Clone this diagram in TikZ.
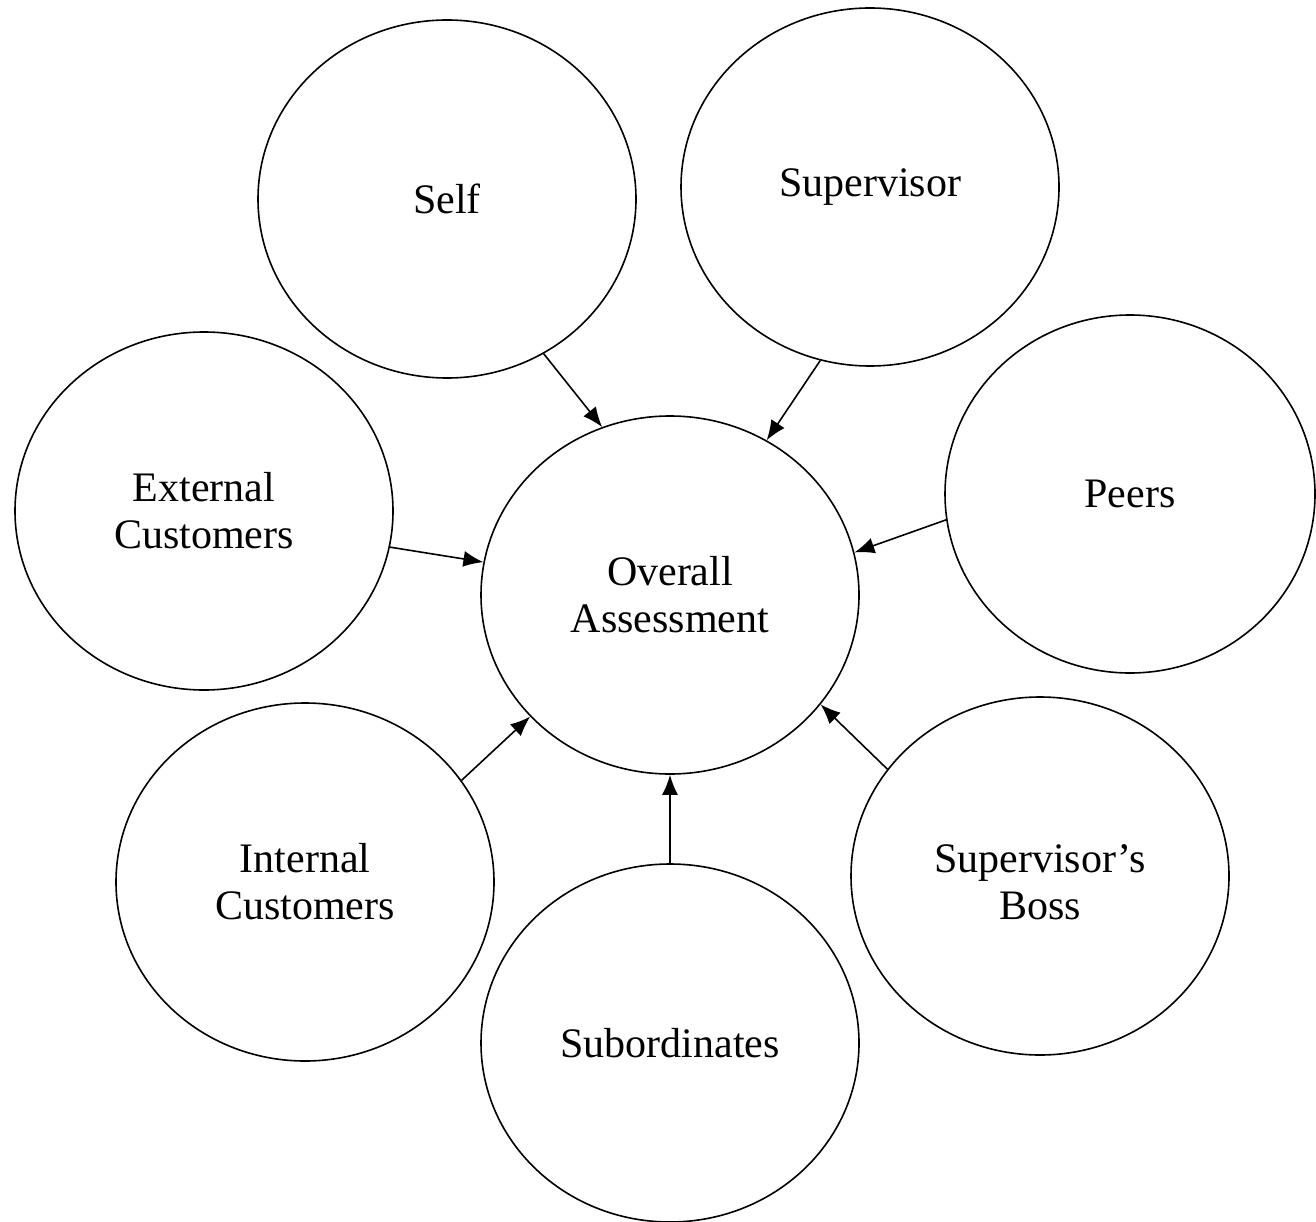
\documentclass[tikz,border=0pt]{standalone}
\usepackage{fontspec}
\setmainfont{Liberation Serif}
\usetikzlibrary{shapes.geometric,arrows.meta}
\begin{document}
\begin{tikzpicture}[x=1pt,y=-1pt,
  source/.style={ellipse,draw,line width=1.6pt,minimum width=378pt,minimum height=358pt,
    inner sep=0pt,align=center,font=\fontsize{42}{47}\selectfont},
  feed/.style={line width=1.6pt,-{Latex[length=20pt,width=16pt]}}]
\useasboundingbox (0,0) rectangle (1316,1222);
\node[source] (oa)   at (670,595)  {Overall\\Assessment};
\node[source] (self) at (447,199)  {Self};
\node[source] (sup)  at (870,187)  {Supervisor};
\node[source,minimum width=370pt] (peer) at (1130,494) {Peers};
\node[source] (ext)  at (204,511)  {External\\Customers};
\node[source] (int)  at (305,882)  {Internal\\Customers};
\node[source,label={[align=center,font=\fontsize{42}{47}\selectfont,yshift=-6pt]center:Supervisor’s\\Boss}] (boss) at (1040,876) {};
\node[source] (sub)  at (670,1043) {Subordinates};
\draw[feed] (self.-58) -- (oa.112);
\draw[feed] (sup.-106) -- (oa.58);
\draw[feed] (peer.188) -- (oa.13);
\draw[feed] (ext.-11) -- (oa.170);
\draw[feed] (int.33) -- (oa.221);
\draw[feed] (sub.90) -- (oa.270);
\draw[feed] (boss.145) -- (oa.-36);
\end{tikzpicture}
\end{document}
